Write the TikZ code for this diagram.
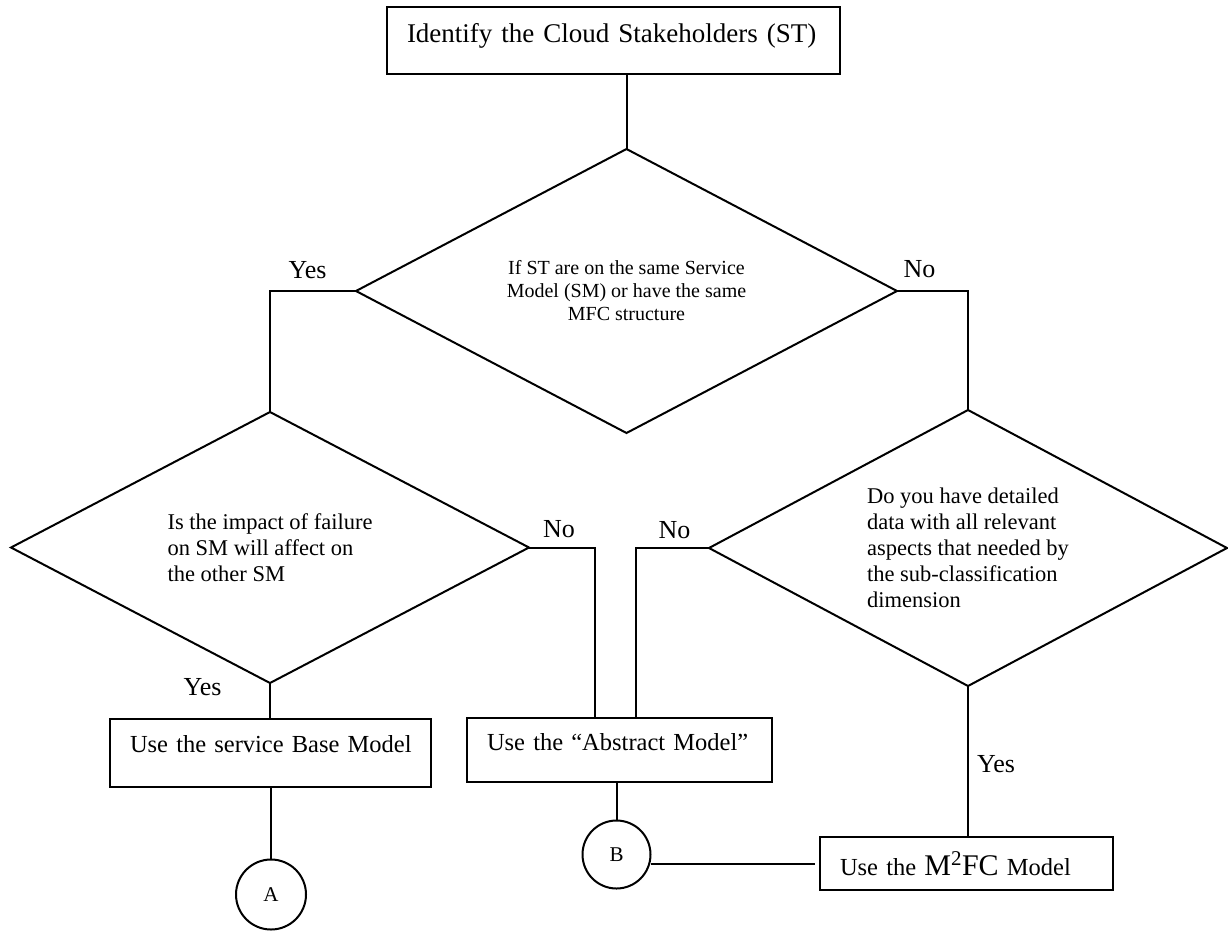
\documentclass[tikz,border=0pt]{standalone}
\usepackage{fontspec}
\setmainfont{Liberation Serif}
\usetikzlibrary{shapes.geometric}

\begin{document}
\begin{tikzpicture}[x=1pt,y=-1pt,line width=2pt,
    decision/.style={diamond,draw,aspect=1.9,inner sep=0pt,outer sep=0pt},
    model/.style={rectangle,draw,align=left,inner xsep=20pt,inner ysep=0pt,outer sep=0pt,
      font=\fontsize{24.5}{30}\selectfont},
    joint/.style={circle,draw,inner sep=0pt,outer sep=0pt,font=\fontsize{21}{25}\selectfont},
    answer/.style={anchor=base,font=\fontsize{26}{30}\selectfont}]
    \useasboundingbox (0,0) rectangle (1228,932);

    % Start
    \node[model,text width=413pt,text height=35pt,text depth=32pt,
      font=\fontsize{27}{32}\selectfont] (stake) at (613.5,40.5)
      {\mbox{Identify the Cloud Stakeholders (ST)}};

    % Decisions
    \node[decision,minimum width=541pt,minimum height=284pt,align=center,
      font=\fontsize{20}{23}\selectfont] (same) at (626.5,291)
      {If ST are on the same Service\\Model (SM) or have the same\\MFC structure};
    \node[decision,minimum width=518pt,minimum height=271pt,align=left,
      font=\fontsize{22.5}{26}\selectfont] (impact) at (270,547.5)
      {Is the impact of failure\\on SM will affect on\\the other SM};
    \node[decision,minimum width=518pt,minimum height=276pt,align=left,
      font=\fontsize{22.5}{26}\selectfont] (detail) at (968,548)
      {Do you have detailed\\data with all relevant\\aspects that needed by\\the sub-classification\\dimension};

    % Models
    \node[model,text width=281pt,text height=33pt,text depth=35pt] (base) at (270.5,753)
      {\mbox{Use the service Base Model}};
    \node[model,text width=265pt,text height=32pt,text depth=32pt] (abstract) at (619.5,750)
      {\mbox{Use the ``Abstract Model''}};
    \node[model,text width=253pt,text height=38pt,text depth=15pt] (mfc) at (966.5,863.5)
      {\mbox{Use the {\fontsize{30}{30}\selectfont M\textsuperscript{2}FC} Model}};

    % Connectors
    \node[joint,minimum size=70pt] (A) at (271,894.5) {A};
    \node[joint,minimum size=68pt] (B) at (616.5,854.5) {B};

    % Lines
    \draw (same.north |- stake.south) -- (same.north);
    \draw (same.west) -| (impact.north);
    \draw (same.east) -| (detail.north);
    \draw (impact.east) -| ([xshift=-25pt]abstract.north);
    \draw (detail.west) -| ([xshift=16pt]abstract.north);
    \draw (impact.south) -- (impact.south |- base.north);
    \draw (detail.south) -- (detail.south |- mfc.north);
    \draw (A.north |- base.south) -- (A.north);
    \draw (B.north |- abstract.south) -- (B.north);
    \draw[shorten >=5pt] (B.east |- mfc.west) -- (mfc.west);

    % Answers
    \node[answer] (yesSame) at (307.5,278) {Yes};
    \node[answer] (noSame) at (919.5,277) {No};
    \node[answer] (noImpact) at (559,537) {No};
    \node[answer] (noDetail) at (674.5,538) {No};
    \node[answer] (yesImpact) at (202.5,695) {Yes};
    \node[answer] (yesDetail) at (996,772) {Yes};
\end{tikzpicture}
\end{document}
